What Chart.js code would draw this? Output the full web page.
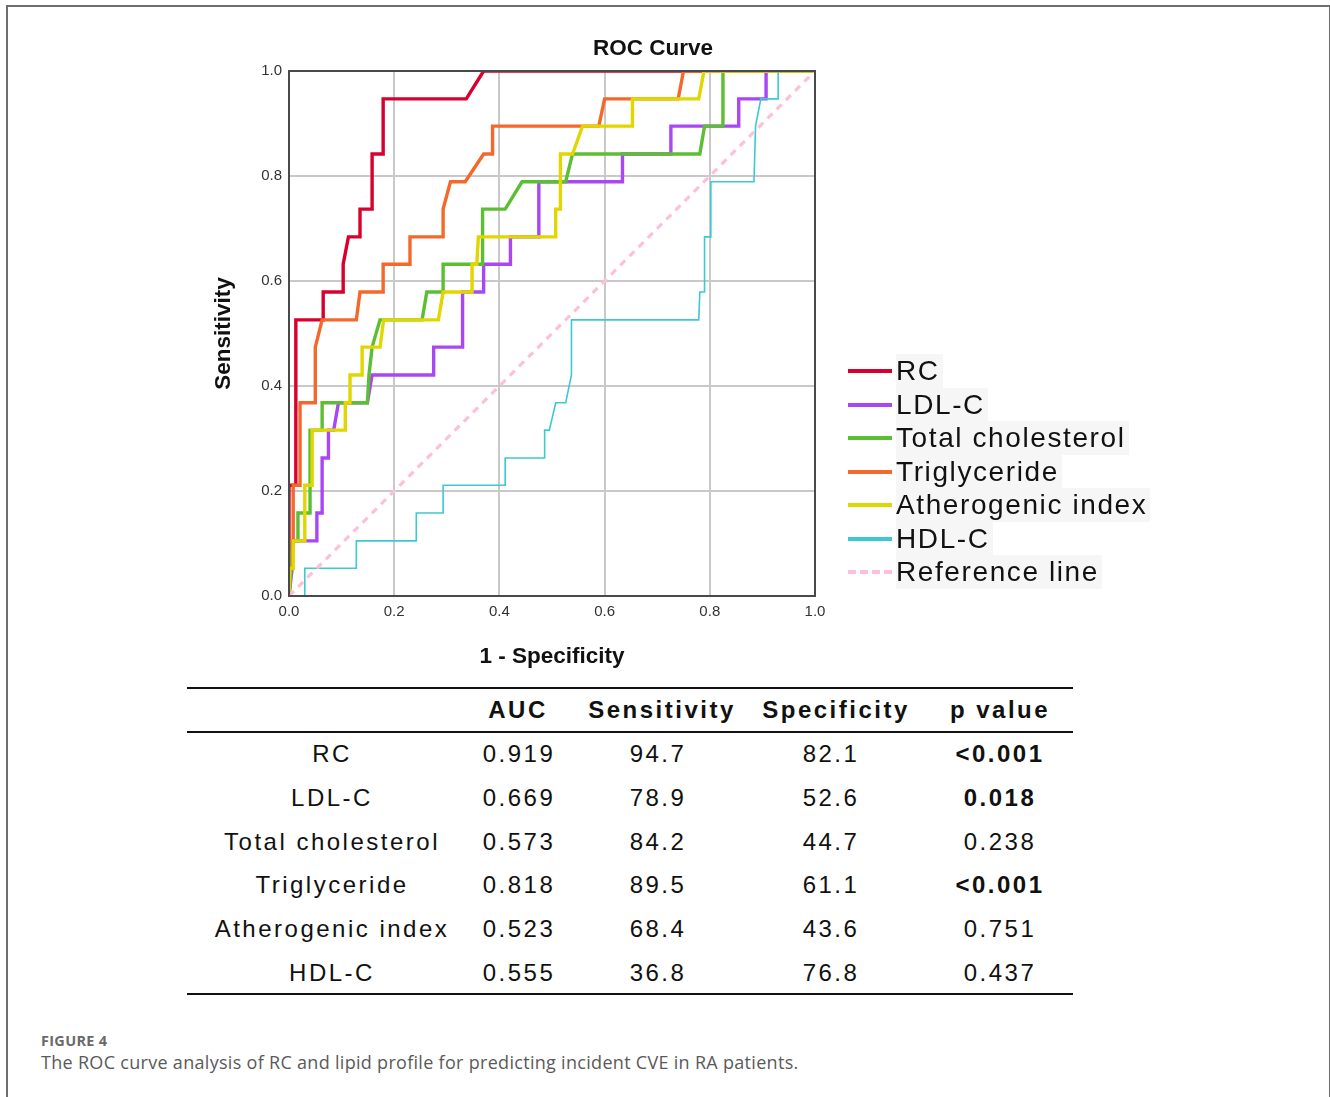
<!DOCTYPE html>
<html>
<head>
<meta charset="utf-8">
<script src="https://cdn.jsdelivr.net/npm/chart.js@4.4.1/dist/chart.umd.min.js"></script>
<style>
  body { margin: 0; background: #fff; width: 1330px; height: 1097px; overflow: hidden; position: relative; font-family: "Liberation Sans", Arial, sans-serif; }
  .frame { position: absolute; left: 6px; top: 5px; width: 1321px; height: 1200px; border: 2px solid #6e6e6e; }
  .chart-wrap { position: absolute; left: 200px; top: 25px; width: 906px; height: 660px; }
  .legend { position: absolute; left: 846px; top: 354px; }
  .legend-row { position: absolute; left: 0; height: 34px; white-space: nowrap; }
  .legend-line { position: absolute; left: 2px; top: 15px; width: 44px; height: 0; border-top: 4px solid; }
  .legend-text { position: absolute; left: 50px; top: 0; font-size: 28px; line-height: 34px; letter-spacing: 1.6px; color: #111; background: #f6f6f6; padding-right: 3px; }
  .rule { position: absolute; left: 187px; width: 886px; height: 2px; background: #111; }
  .cell { position: absolute; transform: translate(-50%, -50%); white-space: nowrap; font-size: 24px; letter-spacing: 2.5px; color: #111; }
  .cell.b { font-weight: bold; }
  .cap1 { position: absolute; left: 41px; top: 1031px; font-family: "Open Sans", sans-serif; font-weight: bold; font-size: 14.5px; letter-spacing: 0.3px; color: #6a6a6a; }
  .cap2 { position: absolute; left: 41px; top: 1050px; font-family: "Open Sans", sans-serif; font-size: 18px; letter-spacing: 0.3px; color: #5a5a5a; }
</style>
</head>
<body>
<div class="frame"></div>
<div class="chart-wrap"><canvas id="rocChart"></canvas></div>
<div class="legend" id="legend"></div>
<div id="table"></div>
<div class="cap1">FIGURE 4</div>
<div class="cap2">The ROC curve analysis of RC and lipid profile for predicting incident CVE in RA patients.</div>

<script>
// ---- ROC points (x = 1 - specificity, y = sensitivity) ----
const rcX  = [0, 0, 0.013, 0.013, 0.065, 0.065, 0.103, 0.103, 0.113, 0.135, 0.135, 0.158, 0.158, 0.179, 0.179, 0.337, 0.37, 1];
const rcY  = [0, 0.211, 0.211, 0.526, 0.526, 0.579, 0.579, 0.632, 0.684, 0.684, 0.737, 0.737, 0.842, 0.842, 0.947, 0.947, 1, 1];

const ldlX = [0, 0.006, 0.006, 0.053, 0.053, 0.063, 0.063, 0.075, 0.075, 0.085, 0.094, 0.149, 0.158, 0.275, 0.275, 0.33, 0.33, 0.37, 0.37, 0.421, 0.421, 0.475, 0.475, 0.634, 0.634, 0.726, 0.726, 0.855, 0.855, 0.907, 0.907, 1];
const ldlY = [0, 0.053, 0.105, 0.105, 0.158, 0.158, 0.263, 0.263, 0.316, 0.316, 0.368, 0.368, 0.421, 0.421, 0.474, 0.474, 0.579, 0.579, 0.632, 0.632, 0.684, 0.684, 0.789, 0.789, 0.842, 0.842, 0.895, 0.895, 0.947, 0.947, 1, 1];

const tcX  = [0, 0.008, 0.017, 0.017, 0.04, 0.04, 0.063, 0.063, 0.149, 0.152, 0.158, 0.173, 0.253, 0.262, 0.293, 0.293, 0.368, 0.368, 0.411, 0.443, 0.526, 0.539, 0.781, 0.79, 0.825, 0.825, 1];
const tcY  = [0, 0.105, 0.105, 0.158, 0.158, 0.316, 0.316, 0.368, 0.368, 0.421, 0.474, 0.526, 0.526, 0.579, 0.579, 0.632, 0.632, 0.737, 0.737, 0.789, 0.789, 0.842, 0.842, 0.895, 0.895, 1, 1];

const tgX  = [0, 0, 0.008, 0.008, 0.021, 0.021, 0.05, 0.05, 0.063, 0.128, 0.135, 0.179, 0.179, 0.23, 0.23, 0.293, 0.293, 0.307, 0.335, 0.37, 0.387, 0.387, 0.589, 0.60, 0.74, 0.75, 1];
const tgY  = [0, 0.105, 0.105, 0.211, 0.211, 0.368, 0.368, 0.474, 0.526, 0.526, 0.579, 0.579, 0.632, 0.632, 0.684, 0.684, 0.737, 0.789, 0.789, 0.842, 0.842, 0.895, 0.895, 0.947, 0.947, 1, 1];

const aiX  = [0, 0.002, 0.008, 0.008, 0.03, 0.03, 0.044, 0.044, 0.107, 0.107, 0.116, 0.116, 0.139, 0.139, 0.173, 0.18, 0.284, 0.293, 0.348, 0.348, 0.357, 0.36, 0.507, 0.507, 0.516, 0.516, 0.539, 0.558, 0.653, 0.653, 0.779, 0.789, 1];
const aiY  = [0, 0.053, 0.053, 0.105, 0.105, 0.211, 0.211, 0.316, 0.316, 0.368, 0.368, 0.421, 0.421, 0.474, 0.474, 0.526, 0.526, 0.579, 0.579, 0.632, 0.632, 0.684, 0.684, 0.737, 0.737, 0.842, 0.842, 0.895, 0.895, 0.947, 0.947, 1, 1];

const hdlX = [0, 0.03, 0.03, 0.128, 0.128, 0.242, 0.242, 0.293, 0.293, 0.411, 0.411, 0.486, 0.486, 0.495, 0.507, 0.526, 0.537, 0.537, 0.779, 0.781, 0.79, 0.79, 0.802, 0.802, 0.884, 0.887, 0.897, 0.93, 0.93, 1];
const hdlY = [0, 0, 0.053, 0.053, 0.105, 0.105, 0.158, 0.158, 0.211, 0.211, 0.263, 0.263, 0.316, 0.316, 0.368, 0.368, 0.421, 0.526, 0.526, 0.579, 0.579, 0.684, 0.684, 0.789, 0.789, 0.895, 0.947, 0.947, 1, 1];

const refX = [0, 1];
const refY = [0, 1];

const axisTicks = [0, 0.2, 0.4, 0.6, 0.8, 1.0];

// ---- table values ----
const rowNames    = ['RC', 'LDL-C', 'Total cholesterol', 'Triglyceride', 'Atherogenic index', 'HDL-C'];
const aucVals     = ['0.919', '0.669', '0.573', '0.818', '0.523', '0.555'];
const sensVals    = ['94.7', '78.9', '84.2', '89.5', '68.4', '36.8'];
const specVals    = ['82.1', '52.6', '44.7', '61.1', '43.6', '76.8'];
const pVals       = ['<0.001', '0.018', '0.238', '<0.001', '0.751', '0.437'];
const pBold       = [true, true, false, true, false, false];
const headers     = ['AUC', 'Sensitivity', 'Specificity', 'p value'];

const pts = (xs, ys) => xs.map((x, i) => ({ x, y: ys[i] }));

const series = [
  { label: 'RC',                data: pts(rcX, rcY),   color: '#d8002e', width: 3.4 },
  { label: 'LDL-C',             data: pts(ldlX, ldlY), color: '#aa47f5', width: 3.4 },
  { label: 'Total cholesterol', data: pts(tcX, tcY),   color: '#5cbf33', width: 3.4 },
  { label: 'Triglyceride',      data: pts(tgX, tgY),   color: '#f4692b', width: 3.4 },
  { label: 'Atherogenic index', data: pts(aiX, aiY),   color: '#e2d600', width: 3.4 },
  { label: 'HDL-C',             data: pts(hdlX, hdlY), color: '#3cc9cf', width: 1.6 },
  { label: 'Reference line',    data: pts(refX, refY), color: '#ffbfdc', width: 3.2, dash: [7, 6] }
];

// plot frame + title centred over the whole figure block
const frameBox = {
  id: 'frameBox',
  afterDatasetsDraw(chart) {
    const a = chart.chartArea, c = chart.ctx;
    c.save();
    c.strokeStyle = '#4a4a4a';
    c.lineWidth = 2;
    c.strokeRect(a.left, a.top, a.right - a.left, a.bottom - a.top);
    c.fillStyle = '#111';
    c.font = 'bold 22.5px "Liberation Sans"';
    c.textAlign = 'center';
    c.textBaseline = 'middle';
    c.fillText('ROC Curve', 453, 24);
    c.restore();
  }
};

const titleFont = { family: 'Liberation Sans', size: 22.5, weight: 'bold' };
const tickFont = { family: 'Liberation Sans', size: 15 };

new Chart(document.getElementById('rocChart'), {
  type: 'scatter',
  data: {
    datasets: series.map((s, i) => ({
      label: s.label,
      data: s.data,
      showLine: true,
      borderColor: s.color,
      backgroundColor: s.color,
      borderWidth: s.width,
      borderDash: s.dash || [],
      pointRadius: 0,
      tension: 0,
      order: series.length - i
    }))
  },
  options: {
    responsive: true,
    maintainAspectRatio: false,
    animation: false,
    layout: { padding: { right: 291, left: 0, top: 46, bottom: 0 } },
    plugins: {
      legend: { display: false },
      tooltip: { enabled: false },
      title: { display: false }
    },
    scales: {
      x: {
        type: 'linear', min: 0, max: 1,
        afterBuildTicks: ax => { ax.ticks = axisTicks.map(v => ({ value: v })); },
        afterFit: ax => { ax.height = 89; },
        grid: { color: '#c9c9c9', lineWidth: 2, drawTicks: false },
        border: { display: false },
        ticks: { padding: 7, color: '#333', font: tickFont, callback: v => v.toFixed(1) },
        title: { display: true, text: '1 - Specificity', color: '#111', font: titleFont, padding: { top: 0, bottom: 14.5 } }
      },
      y: {
        type: 'linear', min: 0, max: 1,
        afterBuildTicks: ax => { ax.ticks = axisTicks.map(v => ({ value: v })); },
        afterFit: ax => { ax.width = 89; },
        grid: { color: '#c9c9c9', lineWidth: 2, drawTicks: false },
        border: { display: false },
        ticks: { padding: 7, color: '#333', font: tickFont, callback: v => v.toFixed(1) },
        title: { display: true, text: 'Sensitivity', color: '#111', font: titleFont, padding: { top: 10.5, bottom: 0 } }
      }
    }
  },
  plugins: [frameBox]
});

// legend
const legendEl = document.getElementById('legend');
series.forEach((s, i) => {
  const row = document.createElement('div');
  row.className = 'legend-row';
  row.style.top = (i * 33.5) + 'px';
  const line = document.createElement('div');
  line.className = 'legend-line';
  line.style.borderTopColor = s.color;
  if (s.dash) line.style.borderTopStyle = 'dashed';
  const txt = document.createElement('div');
  txt.className = 'legend-text';
  txt.textContent = s.label;
  row.appendChild(line);
  row.appendChild(txt);
  legendEl.appendChild(row);
});

// table
const tableEl = document.getElementById('table');
[687, 731, 993].forEach(y => {
  const r = document.createElement('div');
  r.className = 'rule';
  r.style.top = y + 'px';
  tableEl.appendChild(r);
});
const headX = [518, 662, 836, 1000];
const colX = [332, 519, 658, 831, 1000];
const addCell = (text, x, y, bold) => {
  const c = document.createElement('div');
  c.className = 'cell' + (bold ? ' b' : '');
  c.style.left = x + 'px';
  c.style.top = y + 'px';
  c.textContent = text;
  tableEl.appendChild(c);
};
headers.forEach((h, i) => addCell(h, headX[i], 710, true));
rowNames.forEach((n, i) => {
  const y = 754 + i * 43.8;
  addCell(n, colX[0], y, false);
  addCell(aucVals[i], colX[1], y, false);
  addCell(sensVals[i], colX[2], y, false);
  addCell(specVals[i], colX[3], y, false);
  addCell(pVals[i], colX[4], y, pBold[i]);
});
</script>
</body>
</html>
